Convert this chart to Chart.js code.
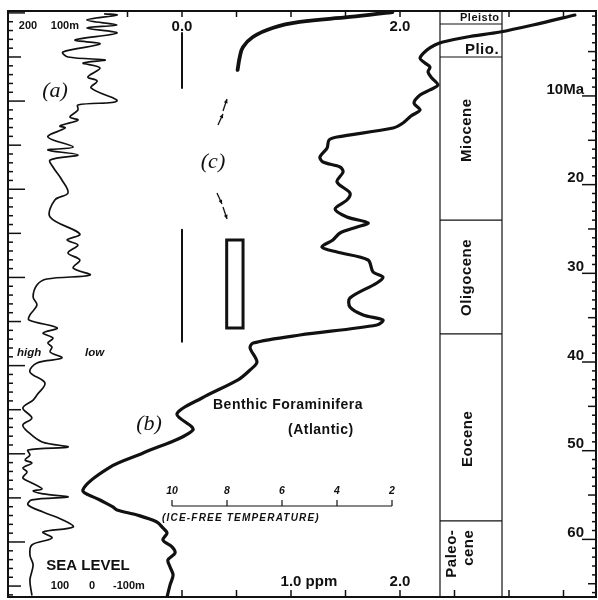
<!DOCTYPE html>
<html>
<head>
<meta charset="utf-8">
<script src="https://cdn.jsdelivr.net/npm/chart.js@4.4.1/dist/chart.umd.min.js"></script>
<style>
  html, body { margin: 0; padding: 0; background: #fff; }
</style>
</head>
<body>
<canvas id="chart" width="598" height="600"></canvas>
<script>
// --- (a) sea level, metres, against age (Ma) ---
const seaAge = [0.1, 0.24, 0.81, 1.37, 1.71, 2.28, 3.07, 3.52, 4.43, 5.0, 5.34, 5.68, 6.25, 7.27, 7.71, 8.51,
  9.99, 10.44, 11.01, 11.81, 12.15, 12.83, 13.05, 14.07, 15.21, 15.55, 16.11, 16.68, 17.47, 18.95, 20.42, 21.22,
  23.14, 25.07, 25.75, 26.32, 27.23, 28.02, 28.93, 29.72, 30.18, 30.86, 32.22, 33.12, 34.26, 34.83, 35.73, 36.30,
  36.87, 37.43, 37.89, 38.45, 39.13, 39.70, 40.72, 41.97, 43.33, 43.90, 44.80, 45.94, 46.73, 47.52, 48.66, 49.23,
  49.57, 50.13, 50.70, 51.04, 51.61, 52.06, 52.74, 53.31, 53.99, 54.21, 54.55, 54.89, 55.23, 55.80, 56.60, 57.50,
  58.30, 58.87, 59.55, 60.34, 61.48, 62.61, 64.31, 66.01];
const seaLevel = [-40, -78, 16, -78, 16, -78, 53, -25, 91, 75, -41, 28, -25, 13, -16, 3,
  -78, 44, 44, 69, 44, 100, 84, 138, 59, 138, 44, 131, 122, 94, 75, 116,
  131, 38, 78, 44, 75, 38, 59, 6, 141, 172, 184, 172, 194, 197, 109, 153,
  122, 138, 125, 131, 94, 172, 194, 147, 172, 184, 216, 188, 216, 200, 156, 75,
  200, 194, 209, 188, 216, 203, 216, 188, 156, 184, 153, 75, 188, 200, 153, 91,
  59, 153, 125, 188, 194, 184, 194, 188];

// --- (b) benthic foraminifera, ice-free temperature equivalent (deg C) ---
const benthicAge = [0.24, 1.37, 2.17, 2.73, 3.30, 3.64, 4.21, 5.11, 5.68, 6.14, 6.70, 7.38, 8.18, 8.74, 9.31,
  10.22, 11.01, 11.69, 12.49, 13.05, 14.07, 14.41, 15.32, 16.34, 16.91, 17.47, 18.04, 19.18, 20.42, 21.22,
  22.24, 23.14, 23.82, 24.28, 24.96, 25.75, 26.55, 27.12, 28.02, 29.38, 29.95, 30.63, 32.33, 33.35, 34.26,
  34.83, 35.39, 36.53, 37.43, 38.00, 39.59, 40.49, 41.62, 43.67, 45.48, 47.30, 49.91, 51.50, 54.10, 55.24,
  56.03, 56.37, 56.94, 57.73, 58.41, 58.98, 59.77, 60.56, 61.25, 62.04, 62.83, 63.74, 64.87, 66.24];
const benthicTemp = [-4.65, -3.13, -1.93, -0.73, 0.15, 0.44, 0.73, 0.98, 0.80, 0.62, 0.69, 0.55, 0.33, 0.62, 0.98,
  1.20, 0.98, 1.31, 1.60, 1.96, 4.00, 4.29, 4.36, 4.62, 4.51, 3.89, 3.78, 4.00, 3.53, 3.64,
  4.07, 3.64, 2.87, 3.27, 3.89, 4.15, 4.55, 4.00, 2.87, 2.69, 2.33, 2.55, 3.53, 3.53, 3.05,
  2.33, 2.55, 5.35, 7.05, 7.16, 6.91, 7.16, 7.60, 8.91, 9.82, 9.24, 11.05, 12.25, 13.24, 12.62,
  12.15, 12.00, 11.27, 10.55, 10.33, 10.18, 10.33, 10.00, 9.89, 10.15, 10.07, 9.96, 10.07, 10.18];

// --- (c) short record + older estimates (ppm scale) ---
const co2Age = [-0.10, 0.46, 1.03, 1.71, 2.73, 3.87, 5.00, 6.47];
const co2Ppm = [1.93, 1.54, 1.08, 0.83, 0.65, 0.56, 0.53, 0.51];
const co2RangeAge = [[2.28, 8.52], [24.6, 37.3]];
const boxPpm = [0.41, 0.56];
const boxAge = [25.75, 35.73];

// epochs (base ages in Ma, as drawn)
const epochNames = ['Pleisto', 'Plio.', 'Miocene', 'Oligocene', 'Eocene', ['Paleo-', 'cene']];
const epochBase = [1.26, 5.0, 23.5, 36.4, 57.6];

// tick labels
const ppmTicks = [-0.5, 0, 0.5, 1, 1.5, 2, 2.5, 3, 3.5];
const tempTicks = [10, 8, 6, 4, 2];
const ageLabels = [10, 20, 30, 40, 50, 60];
const seaTop = [200, 100];
const seaBottom = [100, 0, -100];

const ink = '#111';
const SANS = '"Liberation Sans", Arial, sans-serif';
const SERIF = '"Liberation Serif", "Times New Roman", serif';
const COL_L = 440, COL_R = 502;

function line(ctx, x1, y1, x2, y2) {
  ctx.beginPath(); ctx.moveTo(x1, y1); ctx.lineTo(x2, y2); ctx.stroke();
}
function text(ctx, s, x, y, font, align, spacing) {
  ctx.font = font;
  ctx.textAlign = align || 'center';
  ctx.textBaseline = 'middle';
  ctx.letterSpacing = spacing || '0px';
  ctx.fillText(s, x, y);
  ctx.letterSpacing = '0px';
}
function vtext(ctx, s, x, y, font, align, spacing) {
  ctx.save();
  ctx.translate(x, y);
  ctx.rotate(-Math.PI / 2);
  text(ctx, s, 0, 0, font, align, spacing);
  ctx.restore();
}
function arrow(ctx, x1, y1, x2, y2) {
  line(ctx, x1, y1, x2, y2);
  const ang = Math.atan2(y2 - y1, x2 - x1), h = 4.5;
  ctx.beginPath();
  ctx.moveTo(x2, y2);
  ctx.lineTo(x2 - h * Math.cos(ang - 0.45), y2 - h * Math.sin(ang - 0.45));
  ctx.lineTo(x2 - h * Math.cos(ang + 0.45), y2 - h * Math.sin(ang + 0.45));
  ctx.closePath(); ctx.fill();
}

// arrows next to (c): [ppm1, age1, ppm2, age2]
const arrows = [[0.33, 12.71, 0.376, 11.46], [0.376, 11.12, 0.413, 9.76],
                [0.321, 20.42, 0.367, 21.67], [0.376, 22.01, 0.413, 23.37]];

const framePlugin = {
  id: 'framePlugin',
  beforeDatasetsDraw(chart) {
    const { ctx, chartArea: a } = chart;
    const { x, xt, xs, y, yr } = chart.scales;
    ctx.save();
    ctx.strokeStyle = ink; ctx.fillStyle = ink;

    // frame
    ctx.lineWidth = 2;
    ctx.strokeRect(a.left, a.top, a.right - a.left, a.bottom - a.top);

    // left age ticks
    ctx.lineWidth = 1.5;
    for (let t = 0; t <= 66; t++) {
      const py = y.getPixelForValue(t);
      const len = t % 10 === 0 ? 17 : (t % 5 === 0 ? 13 : 5);
      line(ctx, a.left, py, a.left + len, py);
    }
    // right age ticks
    for (let t = 1; t <= 66; t++) {
      const py = yr.getPixelForValue(t);
      const len = t % 10 === 0 ? 14 : (t % 5 === 0 ? 8 : 4);
      line(ctx, a.right, py, a.right - len, py);
    }
    ageLabels.forEach(t => {
      const py = yr.getPixelForValue(t);
      ctx.font = 'bold 15px ' + SANS; ctx.textAlign = 'right'; ctx.textBaseline = 'bottom';
      ctx.fillText(t === 10 ? '10Ma' : String(t), a.right - 12, py + 1);
    });

    // ppm ticks top & bottom
    ppmTicks.forEach(v => {
      const px = x.getPixelForValue(v);
      if (!(px > COL_L - 2 && px < COL_R + 2)) line(ctx, px, a.top, px, a.top + 6);
      if (v >= 0) line(ctx, px, a.bottom, px, a.bottom - 7);
    });
    text(ctx, '0.0', x.getPixelForValue(0), 27, 'bold 15px ' + SANS);
    text(ctx, '2.0', x.getPixelForValue(2), 27, 'bold 15px ' + SANS);
    const f1 = 'bold 15px ' + SANS;
    ctx.font = f1;
    const w1 = ctx.measureText('1.0').width;
    text(ctx, '1.0 ppm', x.getPixelForValue(1) - w1 / 2, 582, f1, 'left');
    text(ctx, '2.0', x.getPixelForValue(2), 582, f1);

    // sea-level scale labels
    const f2 = 'bold 11px ' + SANS;
    ctx.font = f2;
    seaTop.forEach((m, i) => {
      const s = String(m), w = ctx.measureText(s).width;
      text(ctx, i === seaTop.length - 1 ? s + 'm' : s, xs.getPixelForValue(m) - w / 2, 26, f2, 'left');
    });
    seaBottom.forEach((m, i) => {
      ctx.font = f2;
      const s = String(m), w = ctx.measureText(s).width;
      text(ctx, i === seaBottom.length - 1 ? s + 'm' : s, xs.getPixelForValue(m) - w / 2, 586, f2, 'left');
    });
    text(ctx, 'SEA LEVEL', 88, 566, 'bold 15px ' + SANS);
    text(ctx, 'high', 17, 353, 'italic bold 11.5px ' + SANS, 'left');
    text(ctx, 'low', 85, 353, 'italic bold 11.5px ' + SANS, 'left');

    // epoch column
    ctx.lineWidth = 1.2;
    line(ctx, COL_L, a.top, COL_L, a.bottom);
    line(ctx, COL_R, a.top, COL_R, a.bottom);
    epochBase.forEach(t => {
      const py = y.getPixelForValue(t);
      line(ctx, COL_L, py, COL_R, py);
    });
    const fe = 'bold 15px ' + SANS;
    text(ctx, epochNames[0], 460, 18, 'bold 11px ' + SANS, 'left', '0.5px');
    text(ctx, epochNames[1], 482, y.getPixelForValue(4.2), fe, 'center', '0.5px');
    vtext(ctx, epochNames[2], 467, y.getPixelForValue(13.3), fe, 'center', '0.5px');
    vtext(ctx, epochNames[3], 467, y.getPixelForValue(30.0), fe, 'center', '0.5px');
    vtext(ctx, epochNames[4], 468, y.getPixelForValue(48.3), fe, 'center', '0.5px');
    vtext(ctx, epochNames[5][0], 452, y.getPixelForValue(58.6), fe, 'right', '0.5px');
    vtext(ctx, epochNames[5][1], 469, y.getPixelForValue(58.6), fe, 'right', '0.5px');

    // ice-free temperature scale
    const ty = 506;
    ctx.lineWidth = 1.2;
    line(ctx, xt.getPixelForValue(tempTicks[0]), ty, xt.getPixelForValue(tempTicks[tempTicks.length - 1]), ty);
    tempTicks.forEach(T => {
      const px = xt.getPixelForValue(T);
      line(ctx, px, ty, px, ty - 6);
      text(ctx, String(T), px, 491, 'italic bold 10.5px ' + SANS);
    });
    text(ctx, '(ICE-FREE TEMPERATURE)', 162, 518, 'italic bold 10px ' + SANS, 'left', '1.2px');

    // captions
    text(ctx, 'Benthic Foraminifera', 213, 405, 'bold 14px ' + SANS, 'left', '0.5px');
    text(ctx, '(Atlantic)', 288, 430, 'bold 14px ' + SANS, 'left', '0.5px');
    text(ctx, '(a)', 55, 91, 'italic 22px ' + SERIF);
    text(ctx, '(b)', 149, 424, 'italic 22px ' + SERIF);
    text(ctx, '(c)', 213, 162, 'italic 22px ' + SERIF);

    // arrows near (c)
    ctx.lineWidth = 1.3;
    arrows.forEach(r => arrow(ctx, x.getPixelForValue(r[0]), y.getPixelForValue(r[1]),
                                   x.getPixelForValue(r[2]), y.getPixelForValue(r[3])));
    ctx.restore();
  }
};

const pts = (xs, ys) => ys.map((t, i) => ({ x: xs[i], y: t }));
const base = { pointRadius: 0, fill: false, borderColor: ink, borderCapStyle: 'round', borderJoinStyle: 'round' };

new Chart(document.getElementById('chart'), {
  type: 'line',
  data: {
    datasets: [
      { ...base, label: 'Sea level', data: pts(seaLevel, seaAge), xAxisID: 'xs', yAxisID: 'y',
        borderWidth: 1.7, tension: 0.35 },
      { ...base, label: 'Benthic Foraminifera', data: pts(benthicTemp, benthicAge), xAxisID: 'xt', yAxisID: 'y',
        borderWidth: 3.2, tension: 0.3 },
      { ...base, label: '(c)', data: pts(co2Ppm, co2Age), xAxisID: 'x', yAxisID: 'y',
        borderWidth: 3.8, tension: 0.4 },
      ...co2RangeAge.map(r => ({ ...base, label: 'range', data: [{ x: 0, y: r[0] }, { x: 0, y: r[1] }],
        xAxisID: 'x', yAxisID: 'y', borderWidth: 2, borderCapStyle: 'butt' })),
      { ...base, label: 'box', xAxisID: 'x', yAxisID: 'y', borderWidth: 3, tension: 0,
        borderJoinStyle: 'miter', borderCapStyle: 'square',
        data: [{ x: boxPpm[0], y: boxAge[0] }, { x: boxPpm[1], y: boxAge[0] }, { x: boxPpm[1], y: boxAge[1] },
               { x: boxPpm[0], y: boxAge[1] }, { x: boxPpm[0], y: boxAge[0] }] }
    ]
  },
  options: {
    responsive: false,
    animation: false,
    devicePixelRatio: 1,
    layout: { padding: { left: 8, top: 11, right: 2, bottom: 3 } },
    plugins: { legend: { display: false }, tooltip: { enabled: false } },
    scales: {
      x:  { type: 'linear', axis: 'x', display: false, min: -174 / 109, max: 414 / 109 },
      xt: { type: 'linear', axis: 'x', display: false, reverse: true, min: 10 - 424 / 27.5, max: 10 + 164 / 27.5 },
      xs: { type: 'linear', axis: 'x', display: false, reverse: true, min: -504 / 0.32, max: 84 / 0.32 },
      y:  { type: 'linear', axis: 'y', display: false, reverse: true, min: -1.9 / 8.818, max: 584.1 / 8.818 },
      yr: { type: 'linear', axis: 'y', display: false, reverse: true, min: 3.75 / 8.869, max: 589.75 / 8.869 }
    }
  },
  plugins: [framePlugin]
});
</script>
</body>
</html>
